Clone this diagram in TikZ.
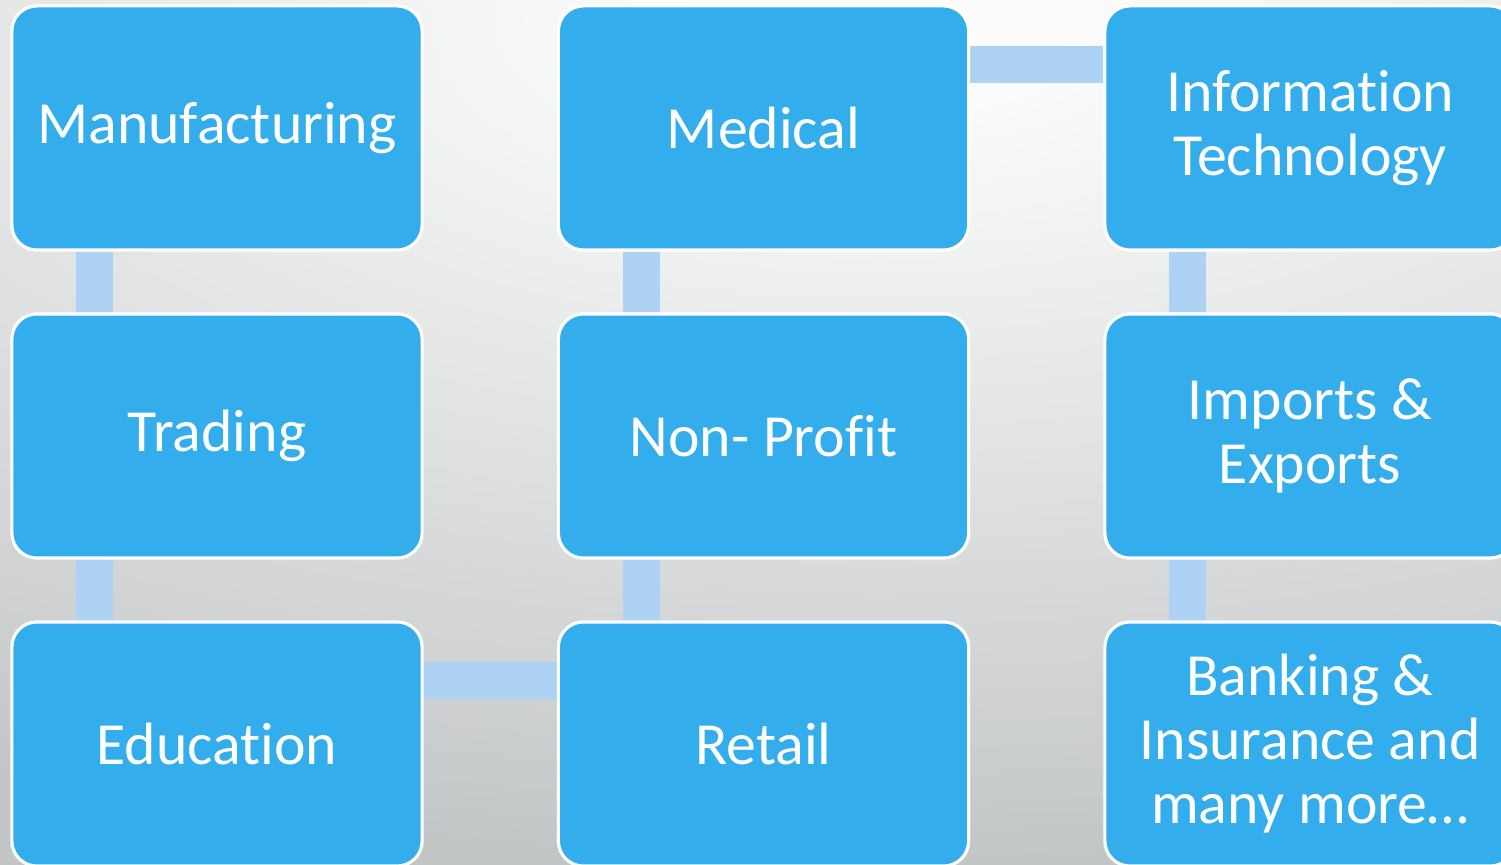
\documentclass[tikz,border=0pt]{standalone}
\usepackage{fontspec}
\setmainfont{Carlito}[Ligatures=NoCommon]
\usetikzlibrary{backgrounds}

\definecolor{boxblue}{RGB}{51,173,235}
\definecolor{linkblue}{RGB}{173,210,243}
\definecolor{bgtop}{RGB}{252,252,252}
\definecolor{bgbottom}{RGB}{194,197,198}
\pgfdeclareradialshading{bgshade}{\pgfpoint{0bp}{0bp}}{color(0bp)=(bgtop); color(2bp)=(bgtop); color(22.5bp)=(bgbottom); color(25bp)=(bgbottom); color(50bp)=(bgbottom)}

\begin{document}
\begin{tikzpicture}[x=0.01cm,y=-0.01cm,
  sector/.style={draw=white, line width=0.9pt, fill=boxblue, rounded corners=0.25cm,
    minimum width=4.1cm, minimum height=2.44cm, text=white, align=center,
    font=\fontsize{17}{18.2}\selectfont},
  link/.style={line width=0.37cm, draw=linkblue}]
\useasboundingbox (0,0) rectangle (1501,865);
\begin{scope}[on background layer]
\fill[bgbottom] (0,0) rectangle (1501,865);
\clip (0,0) rectangle (1501,865);
\shade[shading=bgshade, shift={(880,20)}, xscale=2.3] (0,0) circle (9.5cm);
\end{scope}
\node[sector] (manuf) at (217,128) {Manufacturing};
\node[sector] (trade) at (217,436) {Trading};
\node[sector] (edu) at (217,744) {Education};
\node[sector] (retail) at (763.5,744) {Retail};
\node[sector] (nonprofit) at (763.5,436) {Non- Profit};
\node[sector] (medical) at (763.5,128) {Medical};
\node[sector] (infotech) at (1310,128) {Information\\Technology};
\node[sector] (impexp) at (1310,436) {Imports \&\\Exports};
\node[sector] (banking) at (1310,744) {Banking \&\\Insurance and\\many more\dots};
\begin{scope}[on background layer]
\draw[link] ([xshift=-1.22cm]manuf.south) -- ([xshift=-1.22cm]trade.north);
\draw[link] ([xshift=-1.22cm]trade.south) -- ([xshift=-1.22cm]edu.north);
\draw[link] ([yshift=0.63cm]edu.east) -- ([yshift=0.63cm]retail.west);
\draw[link] ([xshift=-1.22cm]retail.north) -- ([xshift=-1.22cm]nonprofit.south);
\draw[link] ([xshift=-1.22cm]nonprofit.north) -- ([xshift=-1.22cm]medical.south);
\draw[link] ([yshift=0.63cm]medical.east) -- ([yshift=0.63cm]infotech.west);
\draw[link] ([xshift=-1.22cm]infotech.south) -- ([xshift=-1.22cm]impexp.north);
\draw[link] ([xshift=-1.22cm]impexp.south) -- ([xshift=-1.22cm]banking.north);
\end{scope}
\end{tikzpicture}
\end{document}
